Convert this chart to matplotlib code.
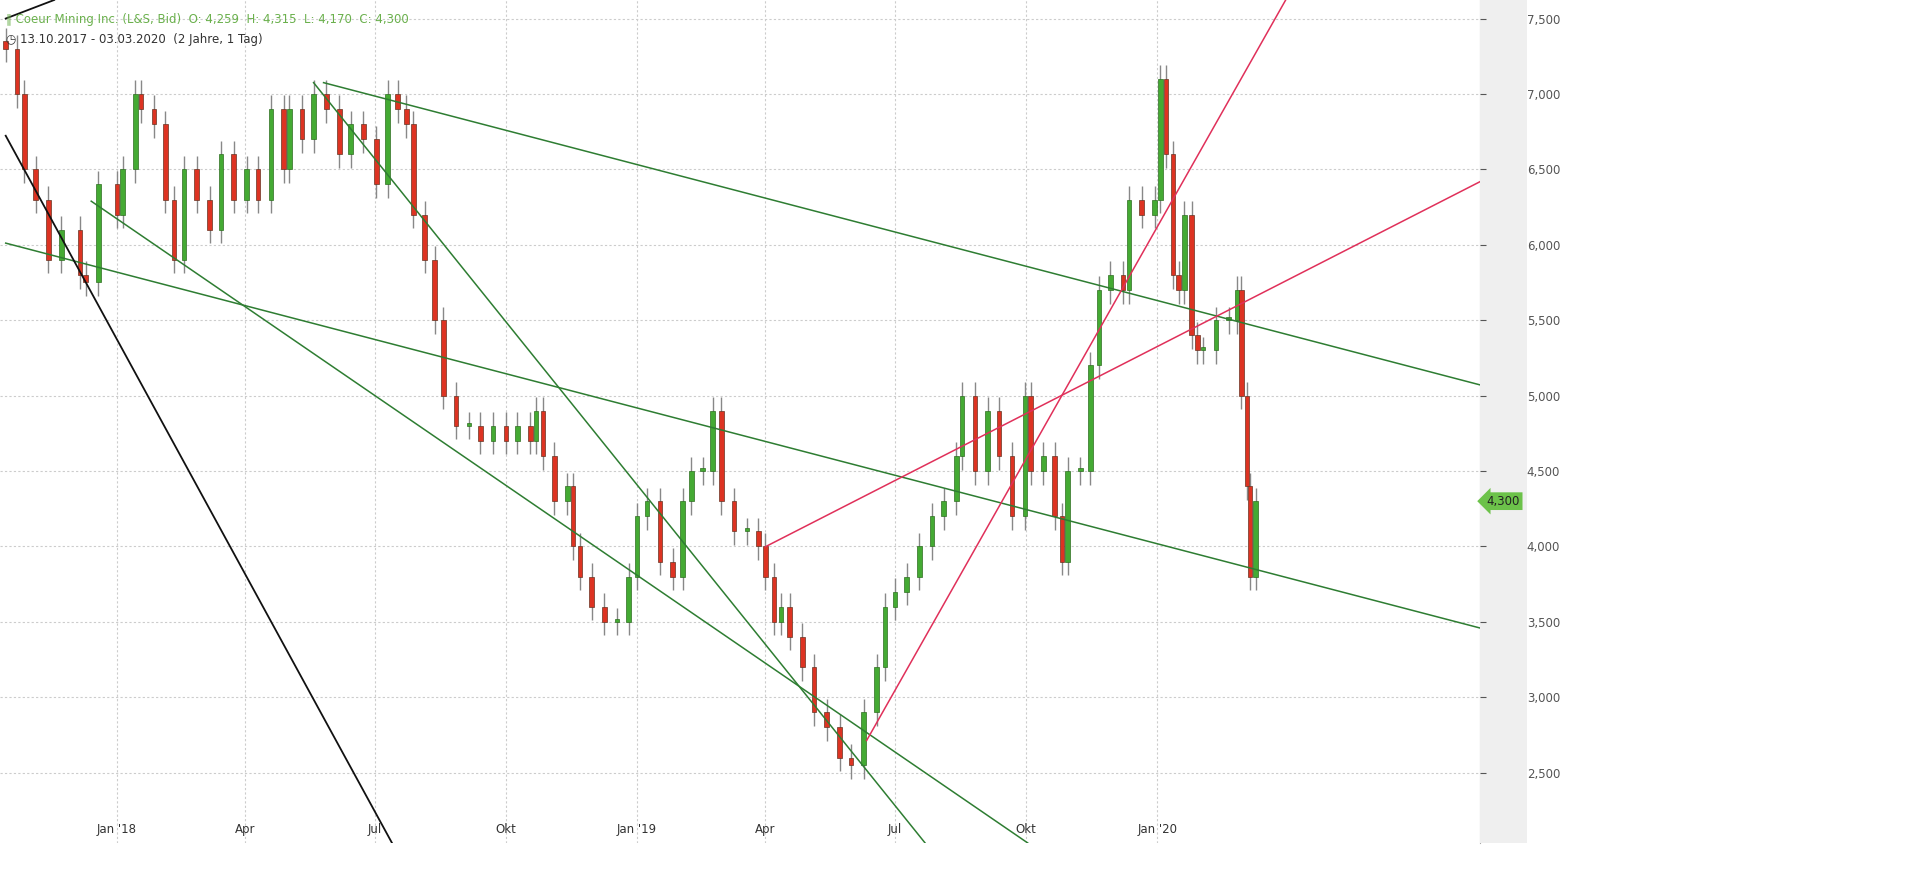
import matplotlib
matplotlib.use("Agg")
import matplotlib.pyplot as plt
import matplotlib.dates as mdates
import datetime as dt

start = dt.date(2017, 10, 13)
# day offsets from start (approx weekly) and closing prices
days = [2, 10, 15, 23, 32, 41, 54, 58, 67, 80, 84, 93, 97, 106, 114, 120, 127, 136, 145, 153, 162, 171, 179, 188, 197, 201, 210, 218, 227, 236, 244, 253, 262, 270, 277, 283, 288, 296, 303, 309, 318, 327, 335, 344, 353, 361, 370, 374, 379, 387, 396, 400, 405, 413, 422, 431, 439, 445, 452, 461, 470, 477, 483, 491, 498, 504, 513, 522, 530, 535, 541, 546, 552, 561, 569, 578, 587, 595, 604, 613, 619, 626, 634, 643, 652, 660, 669, 673, 682, 691, 699, 708, 717, 721, 730, 738, 743, 747, 756, 763, 769, 777, 786, 790, 799, 808, 812, 816, 821, 825, 829, 834, 838, 842, 851, 860, 866, 869, 873, 875, 879]
closes = [7.30, 7.00, 6.50, 6.30, 5.90, 6.10, 5.80, 5.75, 6.40, 6.20, 6.50, 7.00, 6.90, 6.80, 6.30, 5.90, 6.50, 6.30, 6.10, 6.60, 6.30, 6.50, 6.30, 6.90, 6.50, 6.90, 6.70, 7.00, 6.90, 6.60, 6.80, 6.70, 6.40, 7.00, 6.90, 6.80, 6.20, 5.90, 5.50, 5.00, 4.80, 4.80, 4.70, 4.80, 4.70, 4.80, 4.70, 4.90, 4.60, 4.30, 4.40, 4.00, 3.80, 3.60, 3.50, 3.50, 3.80, 4.20, 4.30, 3.90, 3.80, 4.30, 4.50, 4.50, 4.90, 4.30, 4.10, 4.10, 4.00, 3.80, 3.50, 3.60, 3.40, 3.20, 2.90, 2.80, 2.60, 2.55, 2.90, 3.20, 3.60, 3.70, 3.80, 4.00, 4.20, 4.30, 4.60, 5.00, 4.50, 4.90, 4.60, 4.20, 5.00, 4.50, 4.60, 4.20, 3.90, 4.50, 4.50, 5.20, 5.70, 5.80, 5.70, 6.30, 6.20, 6.30, 7.10, 6.60, 5.80, 5.70, 6.20, 5.40, 5.30, 5.30, 5.50, 5.50, 5.70, 5.00, 4.40, 3.80, 4.30]
n = min(len(days), len(closes))
days, closes = days[:n], closes[:n]
wick = 0.09

# trendlines: (day0, price0, day1, price1)
green_lines = [(225, 7.075, 1040, 5.062), (2, 6.011, 1040, 3.450),
               (218, 7.075, 647, 2.034), (62, 6.289, 719, 2.034)]
black_lines = [(2, 6.723, 273, 2.034), (2, 7.50, 36, 7.623)]
red_lines = [(606, 2.713, 900, 7.623), (535, 3.998, 1040, 6.436)]

yticks = [2.5, 3.0, 3.5, 4.0, 4.5, 5.0, 5.5, 6.0, 6.5, 7.0, 7.5]
xtick_dates = [dt.date(2018,1,1), dt.date(2018,4,1), dt.date(2018,7,1), dt.date(2018,10,1),
               dt.date(2019,1,1), dt.date(2019,4,1), dt.date(2019,7,1), dt.date(2019,10,1), dt.date(2020,1,1)]
xtick_labels = ["Jan '18", "Apr", "Jul", "Okt", "Jan '19", "Apr", "Jul", "Okt", "Jan '20"]
last_price = 4.300

def d(off):
    return mdates.date2num(start + dt.timedelta(days=off))

fig = plt.figure(figsize=(19.14, 8.69), dpi=100)
ax = fig.add_axes([0, 0.030, 0.773, 0.970])
ax.set_xlim(d(-1.7), d(1036))
ax.set_ylim(2.034, 7.623)

for y in yticks:
    ax.axhline(y, color="#cccccc", lw=0.8, ls=(0, (2, 2)), zorder=0)
for x in xtick_dates:
    ax.axvline(mdates.date2num(x), color="#cccccc", lw=0.8, ls=(0, (2, 2)), zorder=0)

prev = closes[0] + 0.05
for off, c in zip(days, closes):
    o = prev
    xm = d(off)
    ax.vlines(xm, min(o, c) - wick, max(o, c) + wick, color="#888888", lw=1, zorder=2)
    col = "#44aa33" if c >= o else "#dd3322"
    ax.bar(xm, abs(c - o) if abs(c - o) > 0.01 else 0.02, bottom=min(o, c), width=3.2,
           color=col, edgecolor="#663322" if col == "#dd3322" else "#2d6e20", lw=0.5, zorder=3)
    prev = c

for x0, y0, x1, y1 in green_lines:
    ax.plot([d(x0), d(x1)], [y0, y1], color="#2e7d32", lw=1.1, zorder=4)
for x0, y0, x1, y1 in black_lines:
    ax.plot([d(x0), d(x1)], [y0, y1], color="#111111", lw=1.3, zorder=4)
for x0, y0, x1, y1 in red_lines:
    ax.plot([d(x0), d(x1)], [y0, y1], color="#e0305a", lw=1.1, zorder=4)

ax.set_xticks([mdates.date2num(x) for x in xtick_dates])
ax.set_xticklabels(xtick_labels)
ax.tick_params(axis="x", direction="in", length=0, pad=-14, labelsize=8.5, labelcolor="#333333")
for s in ["top", "left", "bottom"]:
    ax.spines[s].set_visible(False)
ax.spines["right"].set_color("#aaaaaa")

# right price panel
pax = fig.add_axes([0.773, 0.030, 0.025, 0.970], sharey=ax)
pax.set_facecolor("#efefef")
pax.set_xticks([])
pax.set_yticks(yticks)
pax.set_yticklabels([f"{v:.3f}".replace(".", ",") for v in yticks])
pax.yaxis.tick_left()
pax.tick_params(axis="y", direction="in", length=4, pad=-34, labelsize=8.5, colors="#555555")
for lab in pax.get_yticklabels():
    lab.set_horizontalalignment("left")
for s in pax.spines.values():
    s.set_visible(False)
ax.tick_params(axis="y", left=False, labelleft=False, right=False, labelright=False)
pax.text(0.5, last_price, "4,300", transform=pax.get_yaxis_transform(), ha="center", va="center",
         fontsize=8.5, color="#222222",
         bbox=dict(boxstyle="larrow,pad=0.2", fc="#6cc24a", ec="none"))

fig.text(0.003, 0.978, "\u2225 Coeur Mining Inc. (L&S, Bid)  O: 4,259  H: 4,315  L: 4,170  C: 4,300",
         fontsize=8.5, color="#6ab04c", va="center")
fig.text(0.003, 0.955, "\u25F7 13.10.2017 - 03.03.2020  (2 Jahre, 1 Tag)", fontsize=8.5, color="#333333", va="center")

fig.savefig("out.png", dpi=100, facecolor="white")
